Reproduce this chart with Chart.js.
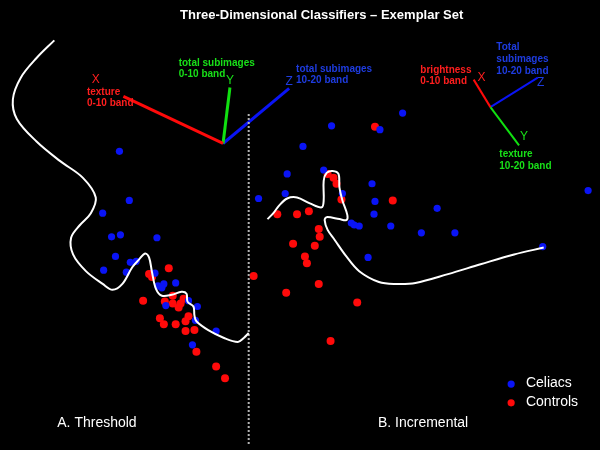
<!DOCTYPE html>
<html>
<head>
<meta charset="utf-8">
<script src="https://cdn.jsdelivr.net/npm/chart.js@4/dist/chart.umd.min.js"></script>
<style>
html,body{margin:0;padding:0;background:#000;}
#wrap{width:600px;height:450px;}
</style>
</head>
<body>
<div id="wrap"><canvas id="c" width="600" height="450"></canvas></div>
<script>
// ---- Data (plot units: 0..600 horizontally, 0..450 vertically, top-down) ----
const celiacsLeft = [[117,150],[127,200],[100,213],[109,237],[118,235],[155,238],[113,257],[128,263],[134,262],[101,271],[124,273],[153,274],[156,287],[162,285],[160,289],[174,284],[164,307],[187,302],[196,308],[194,322],[215,333],[191,347]];
const celiacsRight = [[303,145],[332,124],[381,128],[404,111],[258,198],[287,173],[285,193],[324,169],[343,193],[373,183],[376,201],[375,214],[352,223],[355,225],[360,226],[369,258],[392,226],[423,233],[457,233],[439,208],[592,190],[546,247]];
const controlsLeft = [[167,269],[147,275],[150,278],[141,302],[163,303],[171,297],[171,305],[177,309],[179,305],[182,300],[158,320],[162,326],[174,326],[184,323],[187,318],[184,333],[193,332],[195,354],[215,369],[224,381]];
const controlsRight = [[376,125],[328,173],[334,177],[337,183],[342,199],[394,200],[277,214],[297,214],[309,211],[319,229],[320,237],[293,244],[315,246],[305,257],[307,264],[253,277],[319,285],[286,294],[358,304],[331,343]];

const boundaryA = [[51,37],[33,55],[17,75],[9,97],[13,117],[33,140],[57,160],[80,177],[93,197],[88,213],[77,225],[68,238],[70,255],[83,272],[100,285],[110,291],[120,285],[130,268],[137,260],[143,254],[147,258],[150,273],[154,290],[160,297],[170,296],[180,293],[185,295],[186,303],[192,308],[193,317],[195,323],[207,332],[223,340],[237,344],[243,340],[248,335]];
const boundaryB = [[267,219],[273,213],[279,205],[287,198],[297,197],[310,203],[322,207],[324,200],[324,180],[327,172],[333,170],[339,173],[340,187],[343,200],[348,215],[347,220],[340,219],[327,217],[325,220],[328,230],[335,240],[347,257],[360,272],[380,283],[397,285],[417,284],[450,275],[483,265],[517,255],[547,248]];

const divider = [[248,112],[248,450]];

const triadA = {origin:[222,142], x:[121,94], y:[229,85], z:[289,86]};
const triadB = {origin:[493,105], x:[476,77], y:[522,144], z:[541,75]};

const titleText = "Three-Dimensional Classifiers \u2013 Exemplar Set";
const panelLabels = [["A. Threshold",54,427],["B. Incremental",379,427]];
const seriesNames = ["Celiacs","Controls"];

// axis-triad labels: [text, x, y, colour key, bold, align]
const triadLabels = [
  ["X",93,77,"red",false,"center"],
  ["texture",84,90,"red",true,"left"],
  ["0-10 band",84,101,"red",true,"left"],
  ["total subimages",177,60,"green",true,"left"],
  ["0-10 band",177,72,"green",true,"left"],
  ["Y",229,78,"green",false,"center"],
  ["Z",289,79,"blue",false,"center"],
  ["total subimages",296,66,"blue",true,"left"],
  ["10-20 band",296,78,"blue",true,"left"],
  ["brightness",422,67,"red",true,"left"],
  ["0-10 band",422,79,"red",true,"left"],
  ["X",484,75,"red",false,"center"],
  ["Total",499,44,"blue",true,"left"],
  ["subimages",499,56,"blue",true,"left"],
  ["10-20 band",499,68,"blue",true,"left"],
  ["Z",544,80,"blue",false,"center"],
  ["Y",527,135,"green",false,"center"],
  ["texture",502,153,"green",true,"left"],
  ["10-20 band",502,165,"green",true,"left"]
];

const COL = {blue:'#0a14f5', red:'#ff0a0a', green:'#10e010', textBlue:'#1e3ce0', textRed:'#ff1e1e', textGreen:'#18e018'};
const toPts = arr => arr.map(p => ({x:p[0], y:p[1]}));

function lineDs(arr, color, width, extra){
  return Object.assign({type:'line', data:toPts(arr), borderColor:color, borderWidth:width,
    pointRadius:0, pointHoverRadius:0, fill:false, showLine:true, tension:0, order:0}, extra||{});
}

const datasets = [
  lineDs(boundaryA,'#ffffff',2,{tension:0.35}),
  lineDs(boundaryB,'#ffffff',2,{tension:0.35}),
  lineDs(divider,'#b4b4b4',2,{borderDash:[2,2]}),
  lineDs([triadA.origin,triadA.x],COL.red,3),
  lineDs([triadA.origin,triadA.y],COL.green,3),
  lineDs([triadA.origin,triadA.z],COL.blue,3),
  lineDs([triadB.origin,triadB.x],COL.red,2),
  lineDs([triadB.origin,triadB.y],COL.green,2),
  lineDs([triadB.origin,triadB.z],COL.blue,2),
  {type:'scatter', label:seriesNames[0], data:toPts(celiacsLeft.concat(celiacsRight)), backgroundColor:COL.blue, borderWidth:0, pointRadius:3.6, order:1},
  {type:'scatter', label:seriesNames[1], data:toPts(controlsLeft.concat(controlsRight)), backgroundColor:COL.red, borderWidth:0, pointRadius:4, order:1}
];

const textPlugin = {
  id:'texts',
  beforeDraw(chart){
    const c = chart.ctx; c.save(); c.fillStyle='#000'; c.fillRect(0,0,chart.width,chart.height); c.restore();
  },
  afterDatasetsDraw(chart){
    const c = chart.ctx, sx = chart.scales.x, sy = chart.scales.y;
    const X = v => sx.getPixelForValue(v), Y = v => sy.getPixelForValue(v);
    c.save();
    c.textBaseline='middle';
    // title
    c.fillStyle='#ffffff'; c.textAlign='center';
    c.font='bold 13px "Liberation Sans", Arial, sans-serif';
    c.fillText(titleText, X(322), Y(12));
    // panel labels
    c.textAlign='left'; c.font='14px "Liberation Sans", Arial, sans-serif';
    panelLabels.forEach(l => c.fillText(l[0], X(l[1]), Y(l[2])));
    // triad labels
    triadLabels.forEach(l => {
      const key = l[3];
      c.fillStyle = key==='red'?COL.textRed:key==='green'?COL.textGreen:COL.textBlue;
      c.font = (l[4]?'bold 10px ':'12px ') + '"Liberation Sans", Arial, sans-serif';
      c.textAlign = l[5];
      c.fillText(l[0], X(l[1]), Y(l[2]));
    });
    // legend
    const ds = chart.data.datasets.filter(d => d.label);
    c.font='14px "Liberation Sans", Arial, sans-serif'; c.textAlign='left';
    ds.forEach((d,i) => {
      const yy = Y(387 + i*19);
      c.fillStyle = d.backgroundColor;
      c.beginPath(); c.arc(X(514), yy, 3.6, 0, Math.PI*2); c.fill();
      c.fillStyle='#ffffff';
      c.fillText(d.label, X(529), yy - 1);
    });
    c.restore();
  }
};

new Chart(document.getElementById('c'), {
  type:'scatter',
  data:{datasets},
  options:{
    responsive:false, animation:false, devicePixelRatio:1,
    layout:{padding:0},
    plugins:{legend:{display:false}, title:{display:false}, tooltip:{enabled:false}},
    scales:{
      x:{type:'linear', min:0, max:600, display:false},
      y:{type:'linear', min:0, max:450, reverse:true, display:false}
    }
  },
  plugins:[textPlugin]
});
</script>
</body>
</html>
